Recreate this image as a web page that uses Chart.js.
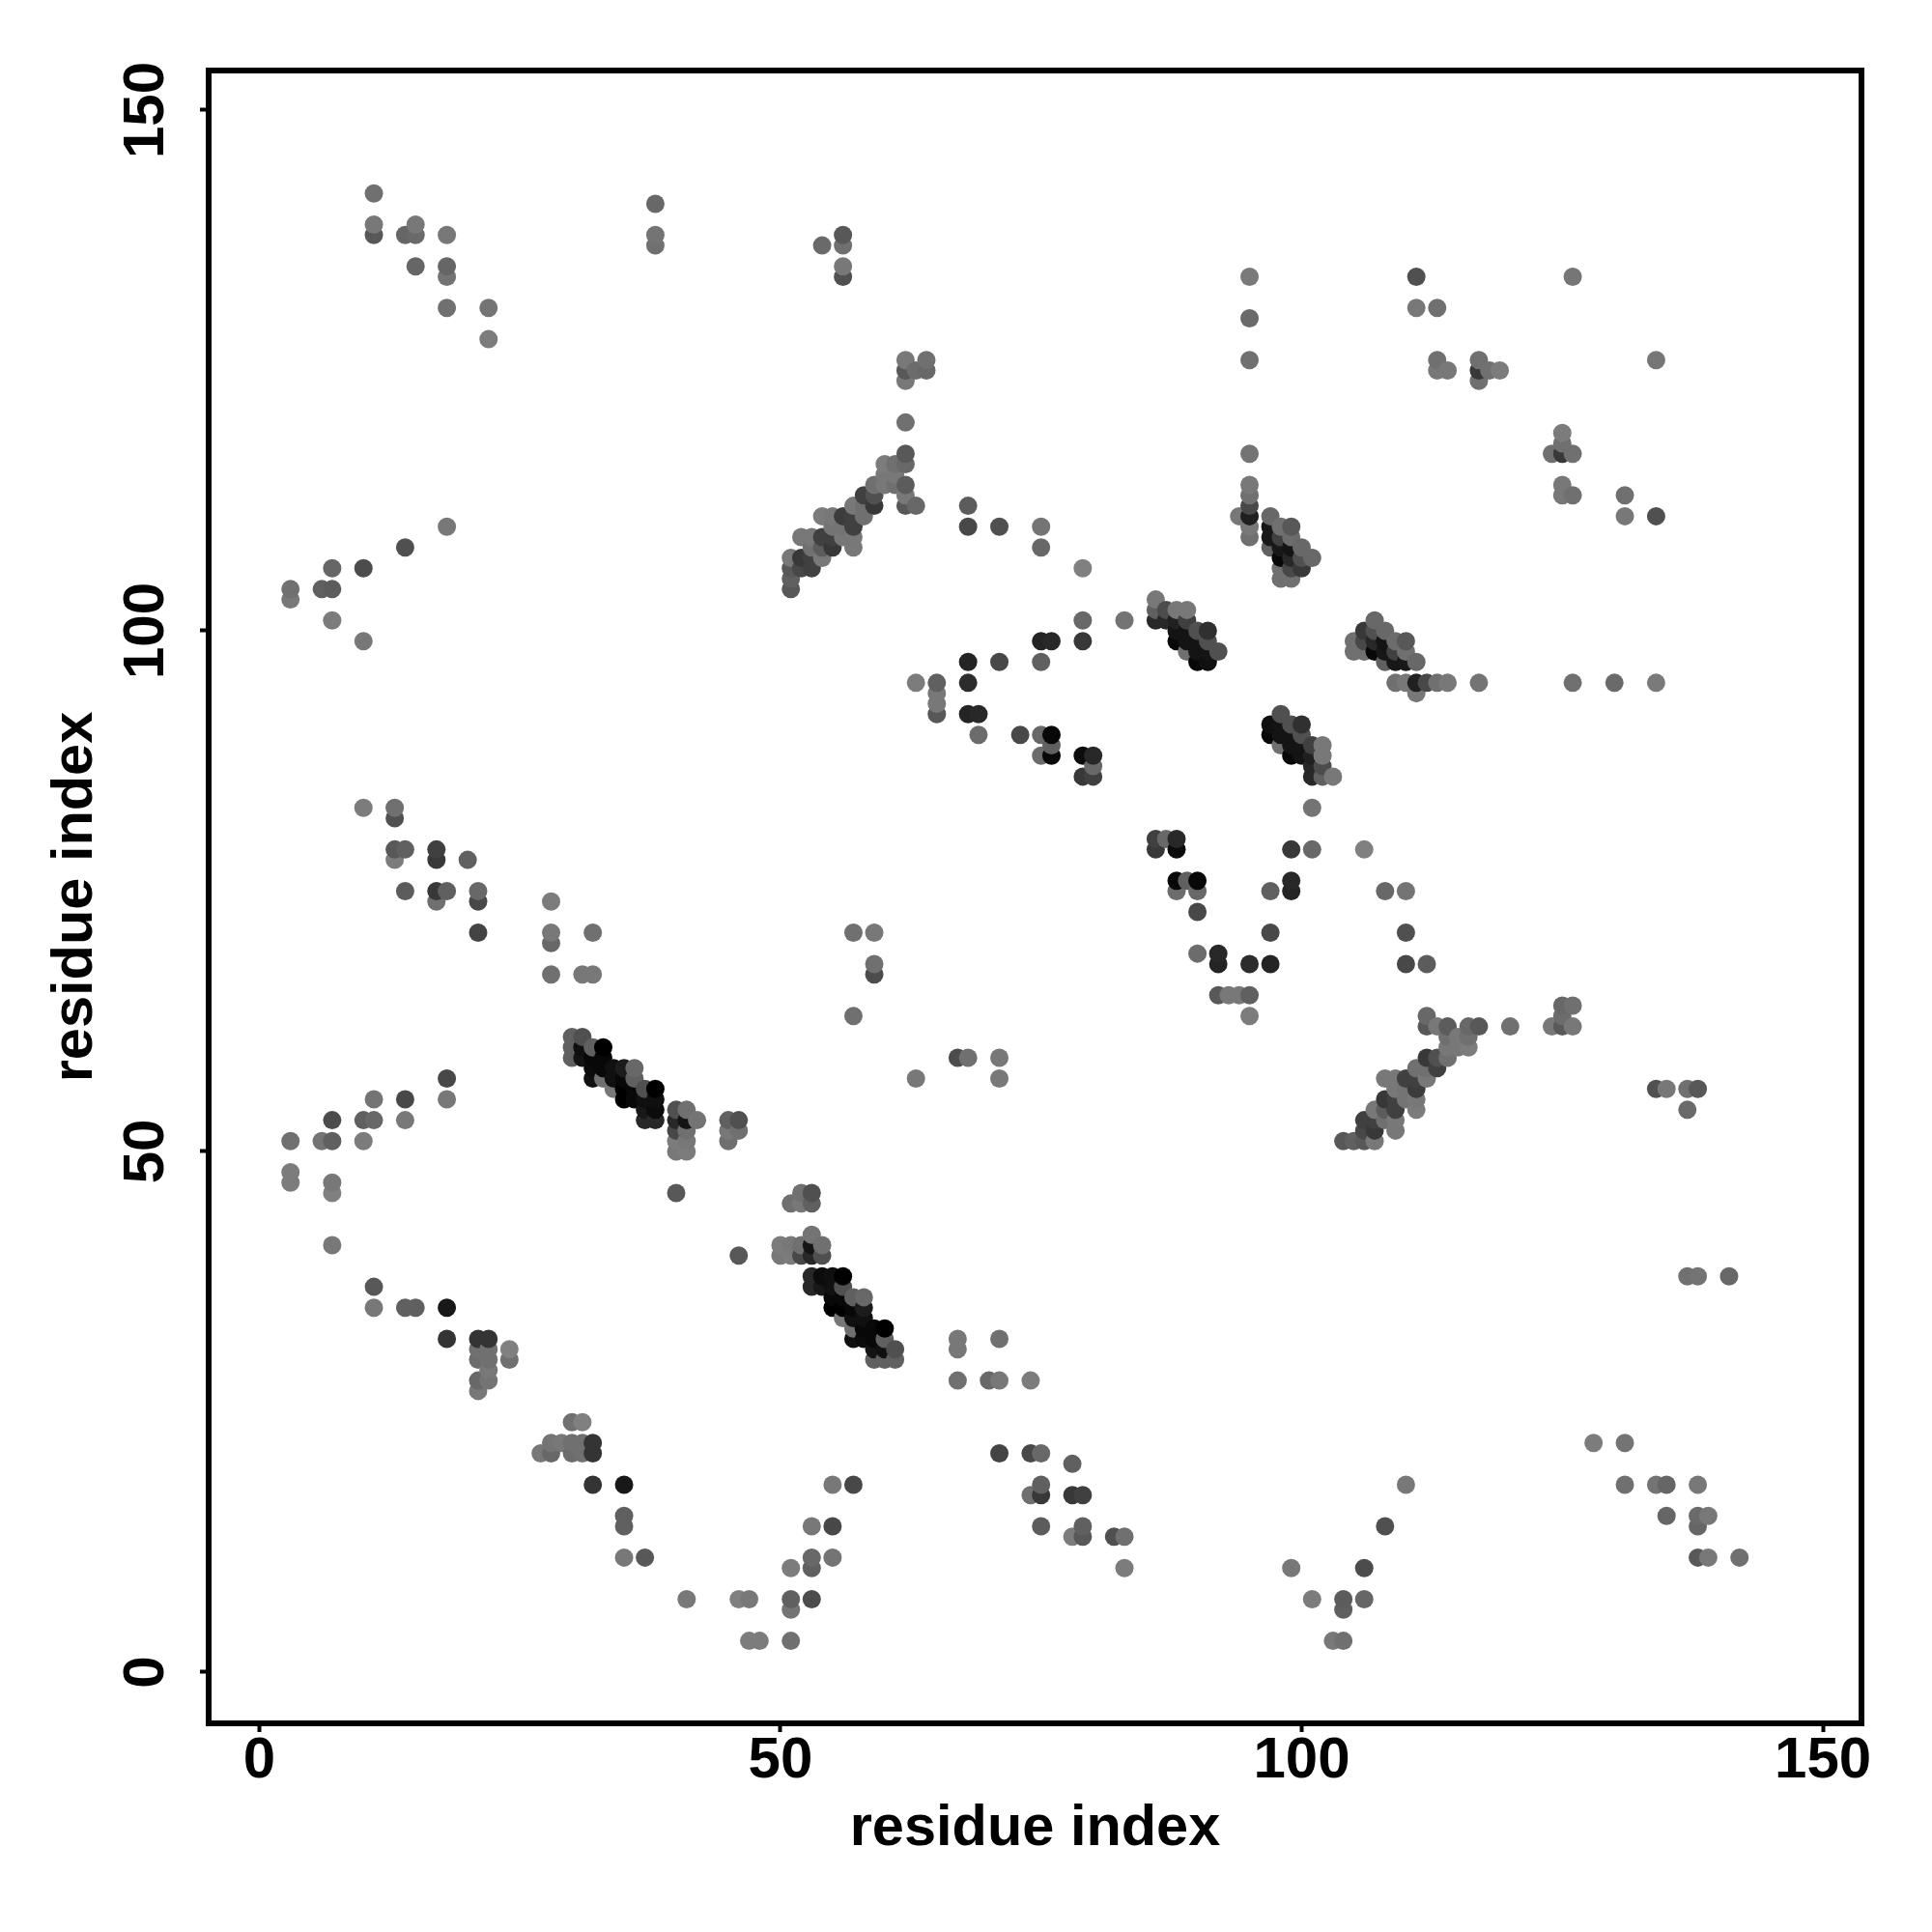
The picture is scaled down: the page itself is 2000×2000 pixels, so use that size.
<!DOCTYPE html>
<html>
<head>
<meta charset="utf-8">
<title>residue contact map</title>
<script src="https://cdn.jsdelivr.net/npm/chart.js@4"></script>
<style>
  body { margin: 0; background: #fff; }
  canvas { display: block; }
</style>
</head>
<body>
<canvas id="contactMap" width="2000" height="2000"></canvas>
<script>
// Contacts above the diagonal
const upperX = [
  3,3,3,3,3, 6,6, 7,7,7,7,7,7,7,7, 10,10,10,10,10, 11,11,11,11,11,11,11, 13,13,13,13, 14,14,14,14,14,14,14,
  15,15,15,15, 17,17,17,17, 18,18,18,18,18,18,18,18,18,18, 20, 21,21,21,21,21,21,21,21, 22,22,22,22,22,22,22,
  24,24, 28,28,28,28, 30,30,30, 31,31,31,31, 32,32,32,32,32,32, 33,33,33,33, 34,34,34, 35,35,35,35, 36,36,36,36,
  37,37,37,37, 38,38,38,38,38,38,38, 40,40,40,40,40,40, 41,41,41,41,41, 42, 45,45,45, 46,46,
  51,51,51,51, 52,52,52, 53,53,53,53, 54,54,54,54,54, 55,55,55,55, 56,56,56,56,56,56,56, 57,57,57,57,57,
  58,58,58, 59,59,59,59,59,59, 60,60,60, 61,61,61, 62,62,62,62,62,62,62,62,62, 63,63,63, 64,64, 65,65,65,65,
  68,68,68,68,68, 69,69, 71,71, 73, 75,75,75,75,75,75, 76,76,76,76, 79,79,79,79,79, 80,80,80, 83,
  86,86,86, 87,87, 88,88,88,88, 89,89,89,89,89, 90,90,90,90, 91,91,91,91, 92, 94,
  95,95,95,95,95,95,95,95,95,95, 97,97,97,97, 98,98,98,98,98,98, 99,99,99,99,99,99, 100,100,100, 101,
  111,111, 113,113,113, 114, 117,117,117, 118, 119, 126, 57,57
];
const upperY = [
  47,48,51,103,104, 51,104, 41,46,47,51,53,101,104,106, 51,53,83,99,106, 35,37,53,55,138,139,142, 78,79,82,83, 35,53,55,75,79,108,138,
  35,135,138,139, 74,75,78,79, 32,35,55,57,75,110,131,134,135,138, 78, 27,28,30,31,32,71,74,75, 28,29,30,31,32,128,131,
  30,31, 67,70,71,74, 59,60,61, 59,60,61,67, 57,58,59,60,67,71, 57,58,59,60, 56,57,58, 55,56,57,58, 55,56,57,58,
  53,54,55,56, 53,54,55,56,137,138,141, 46,50,51,52,53,54, 50,51,52,53,54, 53, 51,52,53, 52,53,
  104,105,106,107, 106,107,109, 106,107,108,109, 107,108,109,111,137, 108,109,110,111, 109,110,111,134,135,137,138, 108,109,110,111,112,
  111,112,113, 67,68,71,112,113,114, 114,115,116, 114,115,116, 112,113,114,116,117,120,124,125,126, 95,112,125, 125,126, 92,93,94,95,
  92,95,97,110,112, 90,92, 97,110, 90, 88,90,97,99,108,110, 88,89,90,99, 86,88,99,101,106, 86,87,88, 101,
  101,102,103, 101,102, 99,100,101,102, 98,99,100,101,102, 97,98,99,100, 97,98,99,100, 98, 111,
  109,110,111,112,113,114,117,126,130,134, 108,109,110,111, 105,106,107,108,109,110, 105,106,107,108,109,110, 106,107,108, 107,
  131,134, 125,126,131, 125, 124,125,126, 125, 125, 134, 63,71
];
const upperShade = [
  124,124,112,120,112, 116,96, 120,128,120,96,76,124,92,102, 124,96,124,120,76, 120,88,104,116,88,120,112, 124,88,80,112, 96,120,72,92,96,80,102,
  96,102,106,120, 112,56,56,64, 52,24,120,72,96,120,112,116,102,120, 96, 120,104,108,112,52,68,72,104, 116,120,112,112,52,124,116,
  112,128, 112,104,120,124, 96,96,96, 20,16,80,120, 16,12,8,96,120,112, 112,8,8,0, 120,16,16, 0,0,8,28, 8,8,96,104,
  40,24,16,80, 40,12,16,0,112,116,104, 88,120,124,72,40,80, 124,120,112,20,112, 116, 112,120,96, 112,80,
  88,96,88,120, 72,56,120, 64,64,112,120, 120,92,64,124,106, 56,64,116,120, 120,116,60,80,120,112,88, 120,120,64,64,120,
  112,112,64, 76,112,120,56,80,112, 120,120,124, 112,120,112, 88,120,92,104,88,112,120,88,120, 124,104,108, 104,112, 88,120,120,96,
  36,44,36,72,92, 108,40, 72,80, 72, 108,104,96,36,104,116, 8,96,8,40, 56,12,56,104,128, 64,104,40, 116,
  40,96,120, 40,76, 8,20,32,120, 112,20,20,64,120, 8,20,20,80, 16,20,80,48, 80, 120,
  112,120,32,72,112,120,116,112,106,122, 96,24,24,104, 112,112,8,24,64,112, 112,72,40,20,108,88, 56,80,104, 104,
  120,80, 120,112,112, 120, 112,56,112, 112, 124, 118, 112,112
];

// Contacts below the diagonal, read the same way
const lowerX = [
  47,48,51,103,104, 51,104, 41,46,47,51,53,101,104,106, 51,53,83,99,106, 35,37,53,55,138,139,142, 78,79,82,83, 35,53,55,75,79,108,138,
  35,135,138,139, 74,75,78,79, 32,35,55,57,75,110,131,134,135,138, 78, 27,28,30,31,32,71,74,75, 28,29,30,31,32,128,131,
  30,31, 67,70,71,74, 59,60,61, 59,60,61,67, 57,58,59,60,67,71, 57,58,59,60, 56,57,58, 55,56,57,58, 55,56,57,58,
  53,54,55,56, 53,54,55,56,137,138,141, 46,50,51,52,53,54, 50,51,52,53,54, 53, 51,52,53, 52,53,
  104,105,106,107, 106,107,109, 106,107,108,109, 107,108,109,111,137, 108,109,110,111, 109,110,111,134,135,137,138, 108,109,110,111,112,
  111,112,113, 67,68,71,112,113,114, 114,115,116, 114,115,116, 112,113,114,116,117,120,124,125,126, 95,112,125, 125,126, 92,93,94,95,
  92,95,97,110,112, 90,92, 97,110, 90, 88,90,97,99,108,110, 88,89,90,99, 86,88,99,101,106, 86,87,88, 101,
  101,102,103, 101,102, 99,100,101,102, 98,99,100,101,102, 97,98,99,100, 97,98,99,100, 98, 111,
  109,110,111,112,113,114,117,126,130,134, 108,109,110,111, 105,106,107,108,109,110, 105,106,107,108,109,110, 106,107,108, 107,
  131,134, 125,126,131, 125, 124,125,126, 125, 125, 134, 63,71
];
const lowerY = [
  3,3,3,3,3, 6,6, 7,7,7,7,7,7,7,7, 10,10,10,10,10, 11,11,11,11,11,11,11, 13,13,13,13, 14,14,14,14,14,14,14,
  15,15,15,15, 17,17,17,17, 18,18,18,18,18,18,18,18,18,18, 20, 21,21,21,21,21,21,21,21, 22,22,22,22,22,22,22,
  24,24, 28,28,28,28, 30,30,30, 31,31,31,31, 32,32,32,32,32,32, 33,33,33,33, 34,34,34, 35,35,35,35, 36,36,36,36,
  37,37,37,37, 38,38,38,38,38,38,38, 40,40,40,40,40,40, 41,41,41,41,41, 42, 45,45,45, 46,46,
  51,51,51,51, 52,52,52, 53,53,53,53, 54,54,54,54,54, 55,55,55,55, 56,56,56,56,56,56,56, 57,57,57,57,57,
  58,58,58, 59,59,59,59,59,59, 60,60,60, 61,61,61, 62,62,62,62,62,62,62,62,62, 63,63,63, 64,64, 65,65,65,65,
  68,68,68,68,68, 69,69, 71,71, 73, 75,75,75,75,75,75, 76,76,76,76, 79,79,79,79,79, 80,80,80, 83,
  86,86,86, 87,87, 88,88,88,88, 89,89,89,89,89, 90,90,90,90, 91,91,91,91, 92, 94,
  95,95,95,95,95,95,95,95,95,95, 97,97,97,97, 98,98,98,98,98,98, 99,99,99,99,99,99, 100,100,100, 101,
  111,111, 113,113,113, 114, 117,117,117, 118, 119, 126, 57,57
];
const lowerShade = [
  124,124,112,120,112, 116,96, 120,128,120,96,76,124,92,102, 124,96,124,120,76, 120,88,104,116,88,120,112, 124,88,80,112, 96,120,72,92,96,80,102,
  96,102,106,120, 112,56,56,64, 52,24,120,72,96,120,112,116,102,120, 96, 120,104,108,112,52,68,72,104, 116,120,112,112,52,124,116,
  112,128, 112,104,120,124, 96,96,96, 20,16,80,120, 16,12,8,96,120,112, 112,8,8,0, 120,16,16, 0,0,8,28, 8,8,96,104,
  40,24,16,80, 40,12,16,0,112,116,104, 88,120,124,72,40,80, 124,120,112,20,112, 116, 112,120,96, 112,80,
  88,96,88,120, 72,56,120, 64,64,112,120, 120,92,64,124,106, 56,64,116,120, 120,116,60,80,120,112,88, 120,120,64,64,120,
  112,112,64, 76,112,120,56,80,112, 120,120,124, 112,120,112, 88,120,92,104,88,112,120,88,120, 124,104,108, 104,112, 88,120,120,96,
  36,44,36,72,92, 108,40, 72,80, 72, 108,104,96,36,104,116, 8,96,8,40, 56,12,56,104,128, 64,104,40, 116,
  40,96,120, 40,76, 8,20,32,120, 112,20,20,64,120, 8,20,20,80, 16,20,80,48, 80, 120,
  112,120,32,72,112,120,116,112,106,122, 96,24,24,104, 112,112,8,24,64,112, 112,72,40,20,108,88, 56,80,104, 104,
  120,80, 120,112,112, 120, 112,56,112, 112, 124, 118, 120,120
];

const tickValues = [0, 50, 100, 150];
const axisLabel = 'residue index';

// The original plots column by column, so later points cover earlier ones
const points = [];
upperX.forEach((x, i) => points.push({ x: x, y: upperY[i], shade: upperShade[i] }));
lowerX.forEach((x, i) => points.push({ x: x, y: lowerY[i], shade: lowerShade[i] }));
points.sort((a, b) => a.x - b.x || a.y - b.y);

const framePlugin = {
    id: 'frame',
    afterDraw(chart) {
        const { ctx, chartArea } = chart;
        ctx.save();
        ctx.strokeStyle = '#000';
        ctx.lineWidth = 6;
        ctx.strokeRect(chartArea.left, chartArea.top, chartArea.width, chartArea.height);
        ctx.restore();
    },
};

const tickFont = { family: '"Liberation Sans"', weight: 'bold', size: 60 };
const titleFont = { family: '"Liberation Sans"', weight: 'bold', size: 59.5 };

function sharedGrid() {
    return { drawOnChartArea: false, drawTicks: true, tickLength: 9, tickWidth: 4, tickColor: '#000' };
}

new Chart(document.getElementById('contactMap'), {
    type: 'scatter',
    data: {
        datasets: [
            {
                data: points,
                pointRadius: 9.5,
                pointBorderWidth: 0,
                pointBackgroundColor: points.map(p => `rgb(${p.shade},${p.shade},${p.shade})`),
            },
        ],
    },
    options: {
        responsive: false,
        animation: false,
        layout: { padding: { top: 73, right: 73, left: 0, bottom: 0 } },
        scales: {
            x: {
                type: 'linear',
                min: -4.85,
                max: 153.7,
                afterFit: scale => { scale.height = 216; },
                afterBuildTicks: scale => { scale.ticks = tickValues.map(v => ({ value: v })); },
                border: { display: false },
                grid: sharedGrid(),
                ticks: { color: '#000', font: tickFont, padding: -6, maxRotation: 0, minRotation: 0 },
                title: { display: true, text: axisLabel, color: '#000', font: titleFont, padding: { top: 71, bottom: 71 } },
            },
            y: {
                type: 'linear',
                min: -4.92,
                max: 153.8,
                afterFit: scale => { scale.width = 216; },
                afterBuildTicks: scale => { scale.ticks = tickValues.map(v => ({ value: v })); },
                border: { display: false },
                grid: sharedGrid(),
                ticks: { color: '#000', font: tickFont, padding: 4, minRotation: 90, maxRotation: 90, crossAlign: 'center' },
                title: { display: true, text: axisLabel, color: '#000', font: titleFont, padding: { top: 43, bottom: 43 } },
            },
        },
        plugins: {
            legend: { display: false },
            tooltip: { enabled: false },
        },
    },
    plugins: [framePlugin],
});
</script>
</body>
</html>
